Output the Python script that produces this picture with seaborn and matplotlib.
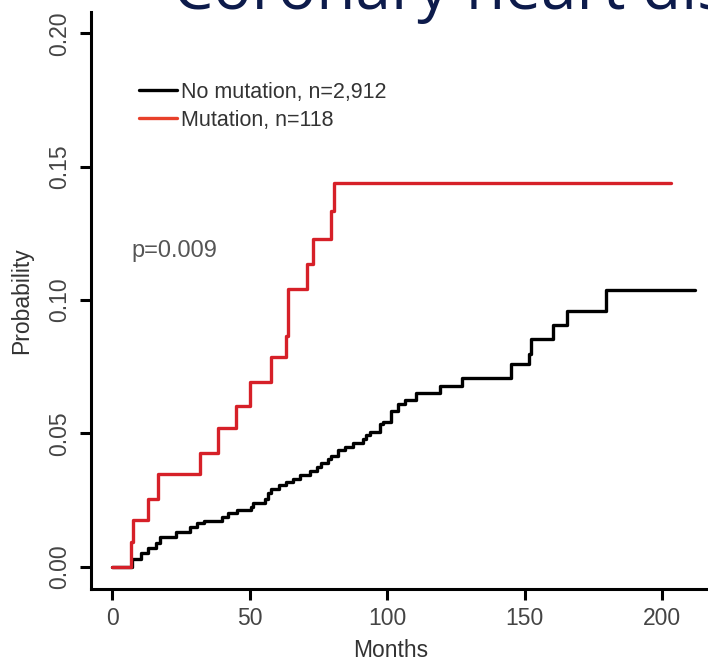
import matplotlib
matplotlib.use("Agg")
import matplotlib.pyplot as plt
import seaborn as sns
import pandas as pd
from matplotlib.lines import Line2D

# ---- data ----
no_mut_months = [0, 7.1, 10.4, 13.1, 15.9, 17.3, 23.1, 28.3, 30.7, 33.5, 40.0, 42.2, 45.2,
                 50.3, 51.3, 55.5, 56.7, 57.7, 60.6, 63.1, 65.8, 68.3, 71.9, 74.3, 75.8,
                 78.5, 79.5, 82.0, 84.6, 87.4, 91.3, 92.3, 93.7, 97.5, 98.3, 101.2, 104.0,
                 106.4, 110.3, 119.2, 127.1, 145.0, 151.6, 152.4, 160.4, 165.5, 179.5, 212.0]
no_mut_prob = [0.0, 0.0028, 0.0052, 0.0069, 0.0088, 0.0112, 0.0131, 0.0148, 0.0163, 0.0172,
               0.0185, 0.0200, 0.0213, 0.0225, 0.0240, 0.0256, 0.0275, 0.0291, 0.0306, 0.0319,
               0.0331, 0.0346, 0.0359, 0.0373, 0.0388, 0.0403, 0.0415, 0.0438, 0.0450, 0.0465,
               0.0478, 0.0493, 0.0506, 0.0534, 0.0544, 0.0585, 0.0611, 0.0626, 0.0652, 0.0679,
               0.0707, 0.0759, 0.0798, 0.0853, 0.0906, 0.0960, 0.1037, 0.1037]

mut_months = [0, 6.7, 7.6, 12.9, 16.6, 32.1, 38.5, 44.9, 50.1, 57.7, 63.1, 64.0, 70.7,
              73.1, 79.4, 80.7, 203.0]
mut_prob = [0.0, 0.0093, 0.0175, 0.0254, 0.0348, 0.0427, 0.0521, 0.0603, 0.0691, 0.0785,
            0.0865, 0.1040, 0.1134, 0.1228, 0.1334, 0.1440, 0.1440]

labels = ["No mutation, n=2,912", "Mutation, n=118"]
x_ticks = [0, 50, 100, 150, 200]
y_ticks = [0.00, 0.05, 0.10, 0.15, 0.20]
y_tick_labels = ["0.00", "0.05", "0.10", "0.15", "0.20"]
p_text = "p=0.009"
title_text = "Coronary heart disease"

df = pd.concat([
    pd.DataFrame({"Months": no_mut_months, "Probability": no_mut_prob, "group": labels[0]}),
    pd.DataFrame({"Months": mut_months, "Probability": mut_prob, "group": labels[1]}),
], ignore_index=True)

sns.set_style("ticks")
plt.rcParams["font.family"] = ["Liberation Sans", "DejaVu Sans"]

fig = plt.figure(figsize=(7.08, 6.62), dpi=100)
ax = fig.add_axes([91 / 708, 1 - 588.7 / 662, 1 - 91 / 708, (588.7 - 11.7) / 662])

palette = {labels[0]: "#000000", labels[1]: "#d62028"}
sns.lineplot(data=df, x="Months", y="Probability", hue="group", palette=palette,
             drawstyle="steps-post", estimator=None, linewidth=2.4, ax=ax, legend=False)

ax.set_xlim(-7.7, 216.6)
ax.set_ylim(-0.0082, 0.2081)
ax.set_xticks(x_ticks)
ax.set_yticks(y_ticks)
ax.set_yticklabels(y_tick_labels, rotation=90, va="center")
for s in ["top", "right"]:
    ax.spines[s].set_visible(False)
for s in ["left", "bottom"]:
    ax.spines[s].set_linewidth(2.2)
    ax.spines[s].set_color("black")
ax.tick_params(axis="both", length=8, width=2.2, color="black", labelsize=16.5,
               labelcolor="#444444")
ax.tick_params(axis="x", pad=5)
ax.tick_params(axis="y", pad=6)

ax.set_xlabel("Months", fontsize=16.5, color="#333333")
ax.set_ylabel("Probability", fontsize=16.5, color="#333333")
ax.xaxis.set_label_coords(0.485, -0.087)
ax.yaxis.set_label_coords(-0.094, 0.5)

handles = [Line2D([], [], color="#000000", lw=2.4), Line2D([], [], color="#e8402a", lw=2.4)]
leg = ax.legend(handles, labels, loc="upper left", bbox_to_anchor=(0.0778, 0.879),
                frameon=False, fontsize=15.5, handlelength=1.75, handletextpad=0.2,
                labelspacing=0.34, borderpad=0, borderaxespad=0)
for t in leg.get_texts():
    t.set_color("#333333")

ax.text(0.066, 0.575, p_text, transform=ax.transAxes, fontsize=17, color="#555555",
        ha="left", va="baseline")

fig.text(173 / 708, 1 - 9 / 662, title_text, fontsize=46, color="#0d1b4b",
         ha="left", va="baseline", family=["Open Sans", "DejaVu Sans"])

fig.savefig("out.png", dpi=100)
